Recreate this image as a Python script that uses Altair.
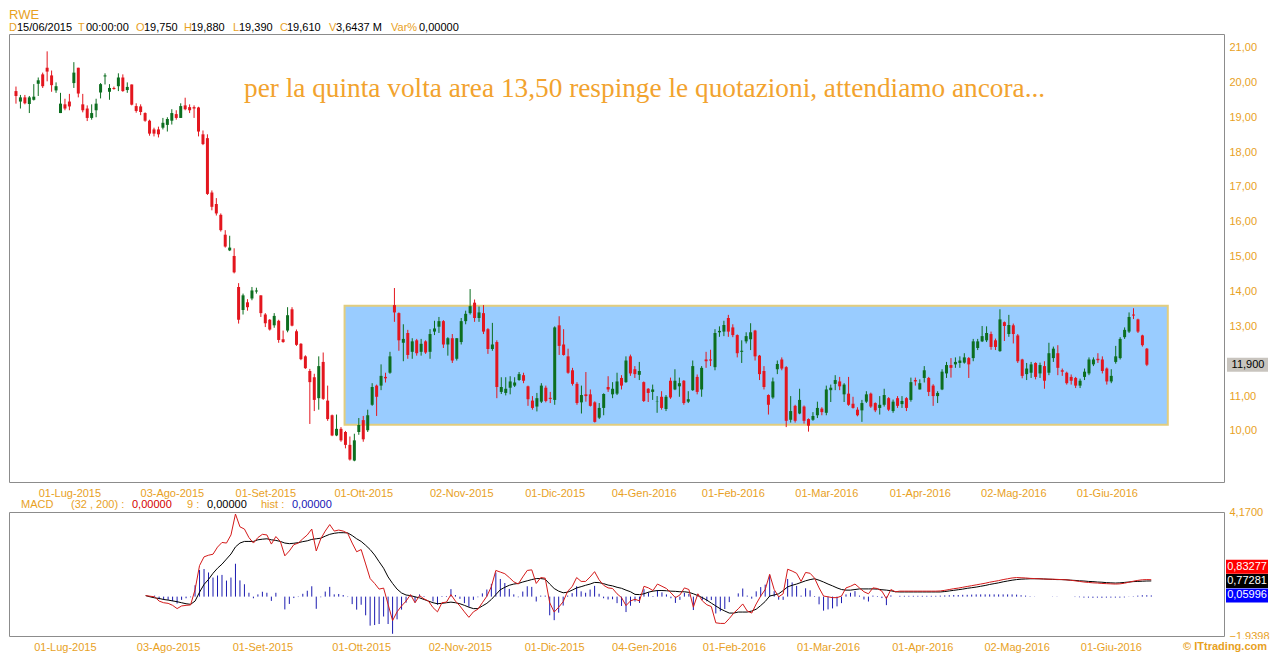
import altair as alt
import pandas as pd

# ------------------------------------------------------------------ data
first_day = "2015-06-15"
holidays = ["2015-12-24", "2015-12-25", "2015-12-31", "2016-01-01",
            "2016-03-25", "2016-03-28", "2016-05-16"]

opens = [
    19.75, 19.45, 19.57, 19.38, 19.50, 19.96, 20.23, 20.42, 20.20, 19.77,
    19.12, 19.37, 19.45, 19.98, 20.42, 19.37, 19.25, 18.98, 19.20, 19.71,
    20.17, 19.73, 19.84, 19.89, 20.14, 19.78, 19.94, 19.32, 19.31, 19.12,
    18.90, 18.65, 18.65, 18.70, 18.78, 18.90, 19.09, 18.98, 19.34, 19.29,
    19.29, 19.28, 18.51, 18.40, 16.84, 16.51, 16.20, 15.63, 15.18, 15.02,
    14.13, 13.47, 13.69, 13.80, 14.00, 13.89, 13.34, 13.19, 13.03, 13.16,
    12.63, 12.88, 13.49, 12.86, 12.50, 12.14, 11.72, 11.54, 10.94, 11.98,
    10.87, 10.45, 9.87, 10.06, 9.97, 9.60, 9.15, 9.97, 10.31, 10.02,
    10.75, 11.30, 11.30, 11.55, 11.67, 13.61, 13.38, 12.53, 12.81, 12.27,
    12.60, 12.27, 12.57, 12.27, 12.85, 12.99, 13.15, 12.48, 12.66, 12.07,
    12.55, 13.15, 13.38, 13.68, 13.24, 13.38, 12.92, 12.35, 12.55, 11.12,
    11.09, 11.24, 11.30, 11.46, 11.60, 11.28, 10.87, 10.70, 10.84, 11.24,
    10.95, 10.89, 13.03, 12.48, 12.14, 11.74, 11.35, 10.82, 11.05, 11.05,
    10.82, 10.38, 10.66, 11.26, 11.05, 11.07, 11.52, 11.40, 12.14, 11.77,
    11.61, 11.40, 11.21, 11.12, 10.85, 10.98, 10.63, 11.44, 11.19, 11.28,
    11.44, 10.84, 11.17, 11.55, 11.19, 12.05, 12.05, 11.83, 12.83, 12.85,
    13.24, 12.97, 12.75, 12.27, 12.57, 12.63, 12.88, 12.16, 11.72, 11.03,
    10.96, 11.77, 12.05, 11.83, 10.32, 10.72, 10.50, 10.70, 10.34, 10.32,
    10.45, 10.64, 10.52, 11.17, 11.35, 11.42, 11.05, 11.07, 10.78, 10.61,
    10.59, 10.84, 11.07, 10.80, 10.66, 10.75, 10.94, 10.57, 10.94, 10.77,
    10.94, 10.89, 11.46, 11.19, 11.52, 11.52, 11.30, 11.00, 11.19, 11.65,
    11.89, 11.91, 11.95, 11.96, 12.09, 12.09, 12.38, 12.57, 12.60, 12.78,
    12.60, 12.29, 13.12, 12.78, 13.03, 12.74, 12.05, 11.63, 11.67, 11.95,
    11.65, 11.86, 11.67, 12.09, 12.23, 11.74, 11.67, 11.55, 11.52, 11.30,
    11.55, 11.65, 11.91, 12.07, 12.05, 11.79, 11.42, 11.98, 12.09, 12.69,
    12.85, 13.34, 13.20, 12.74, 12.36,
]
highs = [
    19.88, 19.64, 19.64, 19.61, 19.95, 20.14, 20.28, 20.89, 20.34, 20.00,
    19.70, 19.53, 19.67, 20.58, 20.42, 19.67, 19.34, 19.37, 19.53, 19.98,
    20.26, 19.95, 19.88, 20.26, 20.23, 20.00, 19.94, 19.40, 19.37, 19.14,
    18.93, 18.70, 18.73, 18.98, 19.00, 19.23, 19.20, 19.40, 19.56, 19.37,
    19.34, 19.30, 18.62, 18.51, 16.90, 16.68, 16.24, 15.76, 15.60, 15.24,
    14.24, 13.94, 13.78, 14.13, 14.11, 13.89, 13.38, 13.21, 13.38, 13.19,
    12.88, 13.55, 13.55, 12.91, 12.52, 12.17, 11.78, 11.64, 12.14, 12.25,
    11.30, 10.47, 10.47, 10.11, 10.00, 9.84, 9.92, 10.37, 10.43, 10.61,
    11.37, 11.33, 11.91, 11.67, 12.27, 14.10, 13.40, 13.06, 12.90, 12.66,
    12.64, 12.64, 12.60, 12.92, 13.16, 13.27, 13.18, 12.69, 12.78, 12.66,
    13.24, 13.45, 14.07, 13.77, 13.57, 13.61, 12.95, 13.10, 12.60, 11.54,
    11.54, 11.57, 11.54, 11.69, 11.67, 11.30, 11.00, 11.09, 11.37, 11.30,
    11.12, 13.00, 13.29, 12.92, 12.36, 11.81, 11.40, 11.30, 11.69, 11.19,
    10.85, 10.80, 11.08, 11.57, 11.40, 11.67, 11.60, 12.14, 12.19, 11.86,
    11.98, 11.42, 11.23, 11.33, 11.00, 11.14, 11.03, 11.53, 11.77, 11.53,
    11.46, 11.14, 12.02, 11.62, 11.86, 12.27, 12.33, 12.92, 13.00, 13.16,
    13.33, 13.06, 12.77, 12.60, 12.83, 13.09, 12.90, 12.18, 11.86, 11.05,
    11.53, 12.02, 12.11, 11.86, 11.00, 10.75, 11.21, 10.73, 10.36, 10.54,
    10.84, 10.68, 11.30, 11.33, 11.60, 11.55, 11.37, 11.55, 10.98, 10.68,
    10.89, 11.14, 11.10, 10.82, 11.00, 11.21, 10.97, 10.90, 11.00, 11.00,
    10.97, 11.53, 11.53, 11.48, 11.86, 11.55, 11.34, 11.14, 11.77, 11.98,
    12.09, 12.11, 12.14, 12.23, 12.12, 12.64, 12.64, 13.01, 13.00, 12.85,
    12.65, 13.49, 13.14, 13.33, 13.08, 12.78, 12.07, 11.95, 11.98, 11.97,
    11.96, 12.00, 12.53, 12.42, 12.46, 11.79, 11.70, 11.62, 11.55, 11.50,
    11.79, 12.11, 12.11, 12.23, 12.14, 11.82, 11.77, 12.44, 12.69, 12.97,
    13.40, 13.52, 13.22, 12.76, 12.38,
]
lows = [
    19.39, 19.25, 19.37, 19.12, 19.48, 19.61, 19.84, 20.03, 19.73, 19.70,
    19.12, 19.20, 19.20, 19.84, 19.57, 19.14, 18.89, 18.93, 19.00, 19.54,
    19.94, 19.50, 19.79, 19.75, 19.73, 19.70, 19.34, 19.13, 19.06, 18.87,
    18.47, 18.45, 18.42, 18.65, 18.59, 18.79, 18.93, 18.98, 19.20, 19.12,
    18.98, 18.45, 18.20, 16.77, 16.33, 16.18, 15.72, 15.26, 15.16, 14.52,
    13.08, 13.34, 13.45, 13.75, 13.94, 13.27, 12.98, 12.88, 12.96, 12.53,
    12.53, 12.83, 13.00, 12.44, 12.03, 11.78, 10.20, 10.57, 10.61, 10.89,
    10.29, 9.85, 9.85, 9.69, 9.50, 9.15, 9.13, 9.89, 9.69, 9.97,
    10.72, 10.43, 11.17, 11.39, 11.64, 13.13, 12.30, 12.00, 12.07, 12.07,
    12.16, 12.16, 12.21, 12.07, 12.75, 12.81, 12.38, 12.16, 11.95, 12.02,
    12.48, 13.06, 13.34, 13.13, 13.13, 12.78, 12.21, 12.30, 10.94, 11.06,
    11.02, 11.05, 11.26, 11.44, 11.37, 10.72, 10.61, 10.56, 10.80, 10.82,
    10.80, 10.75, 12.18, 12.16, 11.64, 11.30, 10.75, 10.50, 10.84, 10.70,
    10.24, 10.34, 10.45, 11.12, 10.94, 11.03, 11.19, 11.38, 11.58, 11.52,
    11.46, 10.83, 10.83, 10.89, 10.52, 10.61, 10.57, 10.92, 11.17, 10.98,
    10.75, 10.80, 11.15, 11.05, 10.98, 11.81, 11.86, 11.74, 12.70, 12.72,
    12.70, 12.69, 12.11, 11.95, 12.51, 12.32, 12.02, 11.46, 11.19, 10.47,
    10.92, 11.63, 11.74, 10.11, 10.24, 10.24, 10.48, 10.21, 9.98, 10.29,
    10.37, 10.45, 10.45, 10.83, 11.17, 11.17, 10.83, 10.72, 10.64, 10.42,
    10.26, 10.80, 10.66, 10.54, 10.47, 10.70, 10.57, 10.52, 10.66, 10.66,
    10.57, 10.84, 11.30, 11.19, 11.39, 11.00, 10.72, 10.80, 11.17, 11.52,
    11.53, 11.81, 11.81, 11.93, 11.52, 12.00, 12.32, 12.55, 12.55, 12.33,
    12.32, 12.27, 12.58, 12.70, 12.51, 11.95, 11.51, 11.46, 11.52, 11.48,
    11.52, 11.21, 11.60, 11.98, 11.60, 11.58, 11.33, 11.33, 11.23, 11.23,
    11.46, 11.60, 11.86, 11.95, 11.65, 11.33, 11.37, 11.93, 12.05, 12.64,
    12.81, 13.21, 12.81, 12.42, 11.86,
]
closes = [
    19.61, 19.57, 19.40, 19.57, 19.59, 20.06, 19.89, 20.31, 19.92, 19.89,
    19.39, 19.25, 19.31, 20.28, 19.68, 19.20, 18.98, 19.12, 19.39, 19.95,
    20.20, 19.84, 19.81, 20.14, 19.75, 19.87, 19.36, 19.18, 19.15, 18.90,
    18.53, 18.53, 18.51, 18.84, 18.95, 19.12, 18.98, 19.32, 19.23, 19.20,
    19.25, 18.59, 18.23, 16.80, 16.43, 16.24, 15.76, 15.29, 15.26, 14.55,
    13.19, 13.89, 13.55, 14.03, 14.03, 13.38, 13.09, 12.91, 13.30, 12.61,
    12.55, 13.32, 13.02, 12.47, 12.06, 11.80, 11.40, 10.89, 11.86, 10.92,
    10.34, 9.87, 10.06, 9.73, 9.60, 9.18, 9.73, 10.17, 9.76, 10.45,
    11.26, 10.98, 11.58, 11.51, 12.14, 13.40, 12.60, 12.64, 12.18, 12.57,
    12.23, 12.50, 12.25, 12.78, 12.94, 13.15, 12.48, 12.66, 12.02, 12.66,
    13.15, 13.36, 13.58, 13.24, 13.40, 12.85, 12.35, 12.48, 11.26, 11.26,
    11.21, 11.42, 11.39, 11.63, 11.44, 10.91, 10.66, 10.94, 11.30, 10.86,
    10.92, 12.97, 12.44, 12.18, 11.67, 11.35, 10.80, 11.03, 11.00, 10.72,
    10.26, 10.66, 11.06, 11.19, 11.21, 11.42, 11.30, 12.02, 11.65, 11.63,
    11.72, 10.86, 11.09, 11.19, 10.86, 10.66, 10.98, 10.96, 11.44, 11.37,
    10.80, 10.91, 11.86, 11.12, 11.81, 12.00, 12.02, 12.81, 12.87, 13.04,
    12.85, 12.75, 12.23, 12.30, 12.72, 12.83, 12.14, 11.63, 11.26, 10.75,
    11.42, 11.92, 11.79, 10.29, 10.57, 10.29, 10.89, 10.29, 10.15, 10.43,
    10.66, 10.54, 11.19, 11.24, 11.46, 11.28, 11.33, 10.75, 10.66, 10.45,
    10.80, 11.05, 10.70, 10.59, 10.75, 11.03, 10.61, 10.84, 10.72, 10.86,
    10.66, 11.40, 11.42, 11.37, 11.74, 11.12, 11.00, 11.09, 11.70, 11.89,
    11.81, 11.98, 12.02, 12.11, 11.91, 12.57, 12.57, 12.72, 12.81, 12.41,
    12.41, 13.20, 13.01, 13.04, 12.78, 12.00, 11.58, 11.79, 11.91, 11.55,
    11.89, 11.44, 12.23, 12.36, 11.81, 11.70, 11.37, 11.44, 11.30, 11.44,
    11.70, 12.05, 12.05, 12.03, 11.72, 11.42, 11.58, 12.14, 12.64, 12.90,
    13.27, 13.31, 12.85, 12.46, 11.90,
]

macd_first = 30
macd_line = [
    0.05, 0.02, -0.01, -0.22, -0.30, -0.33, -0.43, -0.59, -0.46, -0.43,
    -0.41, 0.34, 1.53, 1.96, 2.04, 2.09, 2.44, 2.67, 2.64, 3.04,
    4.07, 3.44, 3.33, 2.91, 2.64, 2.91, 3.07, 3.04, 2.59, 2.96,
    2.72, 2.01, 2.25, 2.56, 2.64, 2.85, 3.04, 3.33, 2.25, 2.85,
    3.23, 3.55, 3.23, 3.28, 3.23, 3.12, 2.64, 2.21, 2.32, 1.61,
    0.89, 0.65, 0.37, 0.42, -0.38, -1.18, -0.75, -0.46, -0.22, 0.10,
    -0.30, 0.05, -0.11, -0.22, -0.54, -0.75, -0.30, -0.27, 0.10, -0.22,
    -0.46, -0.75, -1.02, -0.75, -0.62, -0.30, 0.02, 0.49, 1.29, 1.21,
    1.13, 0.94, 0.73, 0.62, 0.97, 1.29, 1.32, 0.65, 0.94, 0.91,
    -0.30, -0.76, -0.52, -0.25, 0.27, 0.49, 0.94, 0.75, 0.75, 0.97,
    1.23, 0.83, 0.56, 0.43, 0.40, 0.14, -0.05, -0.44, -0.21, -0.13,
    -0.21, 0.51, 0.43, 0.30, 0.62, 0.51, 0.40, 0.19, -0.05, 0.08,
    0.43, 0.35, -0.52, 0.14, -0.21, -0.40, -0.49, -1.29, -1.32, -1.32,
    -1.08, -0.81, -0.60, -0.36, -0.71, -0.81, -0.36, 0.03, 0.35, 1.10,
    0.35, -0.01, 0.14, 1.35, 1.26, 1.15, 0.75, 1.19, 1.15, 0.91,
    0.43, 0.03, -0.01, -0.05, -0.05, 0.03, 0.43, 0.51, 0.62, 0.43,
    0.24, 0.14, 0.43, 0.40, 0.27, -0.10, 0.35, 0.24, 0.27, 0.27,
    0.27, 0.27, 0.27, 0.27, 0.27, 0.27, 0.27, 0.28, 0.31, 0.35,
    0.39, 0.42, 0.46, 0.50, 0.54, 0.58, 0.62, 0.66, 0.71, 0.75,
    0.79, 0.84, 0.88, 0.92, 0.94, 0.93, 0.92, 0.90, 0.89, 0.88,
    0.87, 0.86, 0.86, 0.85, 0.84, 0.83, 0.81, 0.78, 0.75, 0.72,
    0.70, 0.68, 0.67, 0.65, 0.64, 0.63, 0.62, 0.63, 0.66, 0.71,
    0.76, 0.80, 0.83, 0.84, 0.83277,
]
signal_line = [
    0.05, -0.01, -0.06, -0.09, -0.14, -0.17, -0.21, -0.25, -0.30, -0.35,
    -0.38, -0.22, 0.22, 0.60, 0.85, 1.15, 1.40, 1.60, 1.85, 2.10,
    2.45, 2.64, 2.72, 2.72, 2.72, 2.80, 2.83, 2.85, 2.80, 2.77,
    2.72, 2.64, 2.61, 2.63, 2.66, 2.71, 2.75, 2.82, 2.85, 2.88,
    2.98, 3.07, 3.12, 3.15, 3.15, 3.14, 3.01, 2.85, 2.72, 2.53,
    2.32, 2.05, 1.72, 1.40, 0.97, 0.65, 0.37, 0.18, 0.08, 0.05,
    -0.01, -0.06, -0.14, -0.22, -0.30, -0.35, -0.33, -0.30, -0.27, -0.30,
    -0.35, -0.43, -0.52, -0.59, -0.59, -0.46, -0.33, -0.14, 0.10, 0.34,
    0.46, 0.56, 0.62, 0.65, 0.72, 0.78, 0.84, 0.89, 0.89, 0.86,
    0.62, 0.40, 0.27, 0.19, 0.22, 0.32, 0.43, 0.49, 0.56, 0.62,
    0.70, 0.69, 0.64, 0.57, 0.53, 0.46, 0.41, 0.32, 0.24, 0.11,
    0.10, 0.14, 0.22, 0.27, 0.30, 0.30, 0.29, 0.27, 0.26, 0.24,
    0.24, 0.21, 0.14, 0.05, -0.05, -0.17, -0.32, -0.46, -0.60, -0.71,
    -0.81, -0.81, -0.76, -0.76, -0.76, -0.71, -0.62, -0.44, -0.24, 0.03,
    0.08, 0.14, 0.30, 0.48, 0.56, 0.62, 0.70, 0.78, 0.84, 0.88,
    0.81, 0.72, 0.62, 0.53, 0.43, 0.35, 0.32, 0.32, 0.35, 0.38,
    0.38, 0.38, 0.38, 0.37, 0.34, 0.32, 0.29, 0.24, 0.23, 0.23,
    0.23, 0.23, 0.23, 0.23, 0.23, 0.23, 0.23, 0.23, 0.25, 0.28,
    0.31, 0.34, 0.37, 0.41, 0.44, 0.47, 0.51, 0.55, 0.60, 0.64,
    0.68, 0.73, 0.77, 0.81, 0.84, 0.86, 0.87, 0.88, 0.88, 0.88,
    0.87, 0.86, 0.85, 0.84, 0.84, 0.83, 0.81, 0.80, 0.78, 0.77,
    0.75, 0.74, 0.72, 0.71, 0.69, 0.68, 0.67, 0.68, 0.70, 0.72,
    0.74, 0.75, 0.76, 0.77, 0.77281,
]

tick_labels = ["01-Lug-2015", "03-Ago-2015", "01-Set-2015", "01-Ott-2015",
               "02-Nov-2015", "01-Dic-2015", "04-Gen-2016", "01-Feb-2016",
               "01-Mar-2016", "01-Apr-2016", "02-Mag-2016", "01-Giu-2016"]
price_ticks = [10, 11, 13, 14, 15, 16, 17, 18, 19, 20, 21]
macd_ticks = [4.17, -1.9398]
box_x = [73.8, 258.7]      # annotation rectangle, trading-day index
box_y = [10.18, 13.59]     # annotation rectangle, price
title_text = "per la quinta volta area 13,50 respinge le quotazioni, attendiamo ancora..."

# ------------------------------------------------------------------ derived tables
n = min(len(opens), len(highs), len(lows), len(closes))
bd = pd.bdate_range(first_day, periods=400)
bd = bd[~bd.isin(pd.to_datetime(holidays))]
dates = bd[:n]
mesi = {"Gen": 1, "Feb": 2, "Mar": 3, "Apr": 4, "Mag": 5, "Giu": 6,
        "Lug": 7, "Ago": 8, "Set": 9, "Ott": 10, "Nov": 11, "Dic": 12}
tick_idx = []
for lab in tick_labels:
    d, m, y = lab.split("-")
    tick_idx.append(int(dates.get_loc(pd.Timestamp(int(y), mesi[m], int(d)))))

candles = pd.DataFrame({"i": list(range(n)), "o": opens[:n], "h": highs[:n],
                        "l": lows[:n], "c": closes[:n]})
candles["dir"] = ["up" if c >= o else "down" for o, c in zip(candles.o, candles.c)]

m = min(len(macd_line), len(signal_line))
macd_df = pd.DataFrame({"i": list(range(macd_first, macd_first + m)),
                        "macd": macd_line[:m], "signal": signal_line[:m]})
macd_df["hist"] = macd_df["macd"] - macd_df["signal"]
macd_df["zero"] = 0.0

box_df = pd.DataFrame({"x1": [box_x[0]], "x2": [box_x[1]], "y1": [box_y[0]], "y2": [box_y[1]]})
one = pd.DataFrame({"k": [0]})

def it(v, d):
    return ("%." + str(d) + "f") % v

# ------------------------------------------------------------------ styles
FONT = "Liberation Sans"
ORANGE = "#E8A11E"
W, H1, H2 = 1215, 448, 124
RED_C, GREEN_C = "#E3161E", "#0C6E1F"

xs = alt.Scale(domain=[-0.444, 270.2], nice=False, zero=False)
x_expr = ("[" + ",".join("'%s'" % t for t in tick_labels) + "][indexof(["
          + ",".join(str(v) for v in tick_idx) + "], datum.value)]")
xax = alt.Axis(values=tick_idx, labelExpr=x_expr, title=None, ticks=False, tickSize=0,
               domain=False, grid=False, labelColor=ORANGE, labelFont=FONT,
               labelFontSize=11, labelPadding=5, labelOverlap=False, labelFlush=False)

ys1 = alt.Scale(domain=[8.535, 21.388], nice=False, zero=False)
yax1 = alt.Axis(orient="right", values=price_ticks, title=None, ticks=False, tickSize=0,
                domain=False, grid=False, labelColor=ORANGE, labelFont=FONT,
                labelFontSize=11, labelPadding=5,
                labelExpr="replace(format(datum.value, '.2f'), '.', ',')")
ys2 = alt.Scale(domain=[-1.9398, 4.17], nice=False, zero=False)
yax2 = alt.Axis(orient="right", values=macd_ticks, title=None, ticks=False, tickSize=0,
                domain=False, grid=False, labelColor=ORANGE, labelFont=FONT,
                labelFontSize=11, labelPadding=5, labelOverlap=False,
                labelExpr="replace(format(datum.value, '.4f'), '.', ',')")

def X(f):
    return alt.X(f, type="quantitative", scale=xs, axis=xax)

def txt(s, x, y, color, size=11, font=FONT, align="left", weight="normal"):
    return alt.Chart(one).mark_text(text=s, align=align, baseline="alphabetic", font=font,
                                    fontSize=size, color=color, fontWeight=weight).encode(
        x=alt.value(x), y=alt.value(y))

# ------------------------------------------------------------------ price panel
box = alt.Chart(box_df).mark_rect(fill="#99CCFF", stroke="#E2CD7E", strokeWidth=2).encode(
    x=X("x1"), x2=alt.X2("x2"),
    y=alt.Y("y1:Q", scale=ys1, axis=yax1), y2=alt.Y2("y2"))
cscale = alt.Scale(domain=["up", "down"], range=[GREEN_C, RED_C])
wicks = alt.Chart(candles).mark_rule(strokeWidth=1).encode(
    x=X("i"), y=alt.Y("l:Q", scale=ys1, axis=yax1), y2=alt.Y2("h"),
    color=alt.Color("dir:N", scale=cscale, legend=None))
bodies = alt.Chart(candles).mark_bar(size=3).encode(
    x=X("i"), y=alt.Y("o:Q", scale=ys1, axis=yax1), y2=alt.Y2("c"),
    color=alt.Color("dir:N", scale=cscale, legend=None))

last = candles.tail(1)
price_str = it(float(last.c.iloc[0]), 3).replace(".", ",")
tag = alt.Chart(last).mark_rect(fill="#C8C4BE", yOffset=-7, y2Offset=7).encode(
    x=alt.value(W + 3), x2=alt.value(W + 44),
    y=alt.Y("c:Q", scale=ys1, axis=yax1), y2=alt.Y2("c"))
tag_t = alt.Chart(last).mark_text(font=FONT, fontSize=11, color="black", align="center",
                                  baseline="middle").encode(
    x=alt.value(W + 24), y=alt.Y("c:Q", scale=ys1, axis=yax1), text=alt.value(price_str))

title_t = txt(title_text, 235, 63, "#F2A32E", size=27.3, font="Liberation Serif")

d0 = dates[0]
c = lambda v: it(v, 3).replace(".", ",")
header = [
    txt("RWE", 0, -15, ORANGE, size=13),
    txt("D", 0, -3.5, ORANGE), txt(d0.strftime("%d/%m/%Y"), 8, -3.5, "black"),
    txt("T", 69, -3.5, ORANGE), txt("00:00:00", 77, -3.5, "black"),
    txt("O", 127, -3.5, ORANGE), txt(c(opens[0]), 135, -3.5, "black"),
    txt("H", 175, -3.5, ORANGE), txt(c(highs[0]), 182, -3.5, "black"),
    txt("L", 224, -3.5, ORANGE), txt(c(lows[0]), 230, -3.5, "black"),
    txt("C", 271, -3.5, ORANGE), txt(c(closes[0]), 278, -3.5, "black"),
    txt("V", 320, -3.5, ORANGE), txt("3,6437 M", 327, -3.5, "black"),
    txt("Var%", 382, -3.5, ORANGE), txt("0,00000", 410, -3.5, "black"),
]

top = alt.layer(box, wicks, bodies, tag, tag_t, title_t, *header).properties(width=W, height=H1)

# ------------------------------------------------------------------ MACD panel
hist = alt.Chart(macd_df).mark_rule(color="#1B1BB0", strokeWidth=1).encode(
    x=X("i"), y=alt.Y("hist:Q", scale=ys2, axis=yax2), y2=alt.Y2("zero"))
sig = alt.Chart(macd_df).mark_line(color="black", strokeWidth=1).encode(
    x=X("i"), y=alt.Y("signal:Q", scale=ys2, axis=yax2))
mac = alt.Chart(macd_df).mark_line(color="#D41A1A", strokeWidth=1).encode(
    x=X("i"), y=alt.Y("macd:Q", scale=ys2, axis=yax2))

last_m = macd_df.tail(1)

def vbox(field, fill, off):
    val = it(float(last_m[field].iloc[0]), 5).replace(".", ",")
    r = alt.Chart(last_m).mark_rect(fill=fill, yOffset=off - 7, y2Offset=off + 7).encode(
        x=alt.value(W + 2), x2=alt.value(W + 44),
        y=alt.Y(field + ":Q", scale=ys2, axis=yax2), y2=alt.Y2(field))
    t = alt.Chart(last_m).mark_text(font=FONT, fontSize=11, color="white", align="center",
                                    baseline="middle", yOffset=off).encode(
        x=alt.value(W + 23), y=alt.Y(field + ":Q", scale=ys2, axis=yax2), text=alt.value(val))
    return [r, t]

boxes = vbox("macd", "#FF0000", -13) + vbox("signal", "#000000", 0) + vbox("hist", "#0000FF", 0)

legend = [
    txt("MACD", 12, -4, ORANGE), txt("(32 , 200) :", 62, -4, ORANGE),
    txt("0,00000", 123, -4, "#D40000"), txt("9 :", 178, -4, ORANGE),
    txt("0,00000", 198, -4, "black"), txt("hist :", 252, -4, ORANGE),
    txt("0,00000", 283, -4, "#1515B5"),
]
logo_bg = alt.Chart(one).mark_rect(fill="white").encode(
    x=alt.value(W - 42), x2=alt.value(W + 44), y=alt.value(H2 + 3), y2=alt.value(H2 + 17))
logo = txt("\u00a9 ITtrading.com", W + 43, H2 + 14, ORANGE, size=11, align="right", weight="bold")

bottom = alt.layer(hist, sig, mac, *boxes, *legend, logo_bg, logo).properties(width=W, height=H2)

chart = alt.vconcat(top, bottom, spacing=30).properties(
    bounds="flush", padding=0, background="white"
).configure_view(stroke="#8C8C8C", strokeWidth=1)

chart.save("out.html", embed_options={"renderer": "svg", "actions": False})
